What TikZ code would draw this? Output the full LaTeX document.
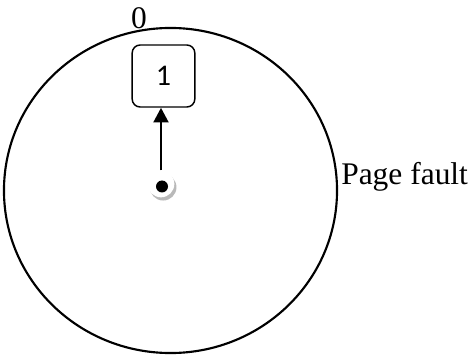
\documentclass[tikz,border=0pt]{standalone}
\usepackage{fontspec}
\setmainfont{Liberation Serif}
\newfontfamily\calibri{Carlito}
\usetikzlibrary{positioning,arrows.meta,shadows}

\begin{document}
\begin{tikzpicture}[
  x=0.75pt, y=-0.75pt,
  % Node Styles
  pagebox/.style={rectangle, rounded corners=6pt, draw, line width=1.1pt, minimum width=47pt, minimum height=46.5pt, align=center, font=\calibri\fontsize{22.5}{25}\selectfont},
  pivot/.style={circle, fill=white, inner sep=0pt, minimum size=20pt, drop shadow={shadow xshift=1.6pt, shadow yshift=-2.4pt, fill=gray!55, opacity=1}},
  hub/.style={circle, fill=black, inner sep=0pt, minimum size=9pt},
  tag/.style={inner sep=0pt, font=\fontsize{23.6}{27}\selectfont},
  % Arrow Styles
  solidarrow/.style={-{Triangle[length=11pt, width=11pt]}, line width=2.2pt},
  ring/.style={line width=1.6pt},
]
\useasboundingbox (0,0) rectangle (472,356);

% Clock face
\draw[ring] (170.5,190.5) ellipse [x radius=124.9pt, y radius=121.9pt];

\node[pagebox] (page1) at (163.5,76) {1};
\node[pivot] (pivot) at (161,184) {};
\node[hub] (hub) at (162,186.5) {};

\node[tag] (zero) at (139,18) {0};
\node[tag, anchor=base west] (fault) at (341,185) {Page fault};

\draw[solidarrow] (pivot.north) -- (pivot.north |- page1.south);

\end{tikzpicture}
\end{document}
